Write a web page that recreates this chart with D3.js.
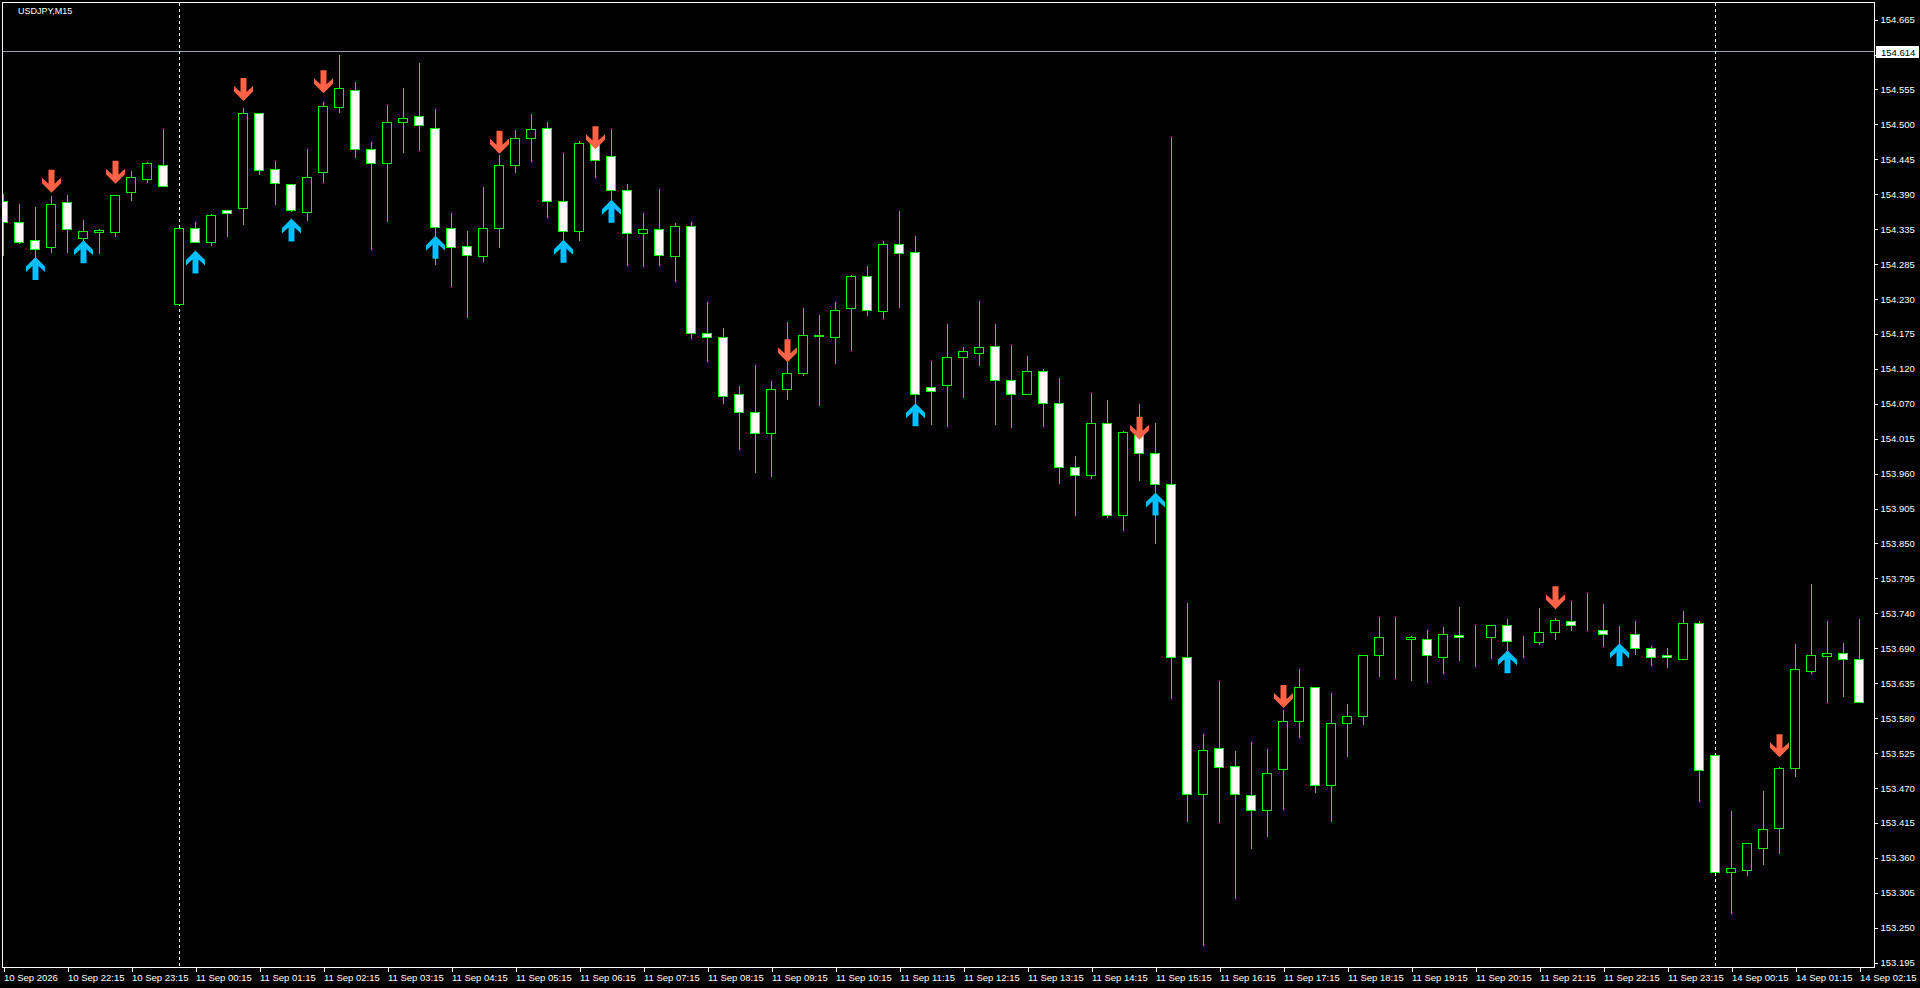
<!DOCTYPE html>
<html><head><meta charset="utf-8">
<script src="https://cdn.jsdelivr.net/npm/d3@7"></script>
<style>html,body{margin:0;padding:0;background:#000;overflow:hidden}</style>
</head><body>
<svg id="c" width="1920" height="988"></svg>
<script>
const symbol = "USDJPY,M15";
const opens = [154.383,154.349,154.321,154.310,154.381,154.324,154.334,154.334,154.396,154.416,
154.439,154.221,154.340,154.319,154.368,154.371,154.519,154.432,154.408,154.365,
154.427,154.529,154.556,154.463,154.441,154.505,154.514,154.496,154.340,154.312,
154.296,154.340,154.439,154.480,154.496,154.382,154.335,154.471,154.453,154.399,
154.333,154.338,154.296,154.344,154.176,154.170,154.081,154.053,154.020,154.089,
154.114,154.1725,154.170,154.215,154.265,154.210,154.315,154.302,154.093,154.095,
154.139,154.145,154.156,154.103,154.081,154.117,154.067,153.967,153.955,154.036,
153.892,154.018,153.990,153.941,153.672,153.458,153.529,153.501,153.457,153.433,
153.497,153.571,153.625,153.472,153.568,153.580,153.675,153.702,153.700,153.699,
153.672,153.706,153.703,153.702,153.721,153.695,153.695,153.711,153.728,153.720,
153.714,153.707,153.708,153.685,153.674,153.669,153.725,153.518,153.337,153.340,
153.373,153.405,153.499,153.649,153.673,153.677,153.668];
const highs = [154.395,154.379,154.374,154.392,154.393,154.354,154.340,154.393,154.431,154.445,
154.496,154.342,154.351,154.363,154.368,154.528,154.519,154.446,154.408,154.465,
154.538,154.611,154.569,154.476,154.533,154.560,154.599,154.527,154.365,154.337,
154.406,154.456,154.494,154.519,154.507,154.459,154.477,154.477,154.496,154.410,
154.365,154.403,154.350,154.351,154.226,154.186,154.095,154.128,154.103,154.195,
154.217,154.206,154.226,154.268,154.282,154.321,154.368,154.329,154.134,154.192,
154.156,154.228,154.192,154.159,154.142,154.122,154.108,153.986,154.085,154.074,
154.026,154.067,154.037,154.483,153.757,153.553,153.636,153.527,153.540,153.530,
153.590,153.654,153.625,153.617,153.600,153.676,153.735,153.735,153.706,153.715,
153.720,153.751,153.723,153.723,153.732,153.706,153.749,153.734,153.760,153.773,
153.756,153.721,153.729,153.690,153.687,153.745,153.729,153.518,153.433,153.383,
153.464,153.501,153.693,153.787,153.729,153.695,153.732];
const lows = [154.298,154.317,154.295,154.303,154.302,154.319,154.301,154.328,154.384,154.412,
154.405,154.221,154.318,154.314,154.328,154.346,154.425,154.378,154.366,154.352,
154.412,154.521,154.451,154.307,154.351,154.459,154.462,154.284,154.250,154.201,
154.288,154.311,154.428,154.445,154.358,154.321,154.321,154.420,154.384,154.282,
154.281,154.283,154.257,154.168,154.133,154.068,153.996,153.959,153.954,154.074,
154.111,154.064,154.129,154.150,154.205,154.200,154.217,154.067,154.035,154.032,
154.077,154.126,154.034,154.030,154.081,154.032,153.943,153.893,153.951,153.890,
153.869,153.948,153.849,153.607,153.416,153.223,153.414,153.295,153.373,153.393,
153.434,153.546,153.461,153.415,153.517,153.567,153.641,153.638,153.636,153.633,
153.647,153.666,153.658,153.670,153.682,153.672,153.691,153.700,153.713,153.713,
153.689,153.693,153.676,153.659,153.656,153.669,153.447,153.336,153.273,153.331,
153.348,153.366,153.486,153.647,153.602,153.610,153.602];
const closes = [154.349,154.319,154.308,154.377,154.338,154.335,154.337,154.391,154.419,154.441,
154.405,154.340,154.318,154.360,154.363,154.519,154.430,154.410,154.368,154.419,
154.530,154.558,154.463,154.442,154.505,154.511,154.500,154.341,154.310,154.298,
154.340,154.438,154.480,154.494,154.382,154.335,154.472,154.446,154.399,154.333,
154.338,154.298,154.344,154.176,154.170,154.079,154.053,154.020,154.089,154.114,
154.173,154.173,154.212,154.265,154.213,154.315,154.301,154.081,154.086,154.139,
154.149,154.154,154.103,154.082,154.117,154.068,153.967,153.955,154.036,153.892,
154.022,153.990,153.941,153.672,153.458,153.527,153.500,153.458,153.433,153.490,
153.571,153.625,153.472,153.568,153.580,153.674,153.702,153.7025,153.703,153.674,
153.707,153.702,153.703,153.721,153.697,153.695,153.711,153.729,153.722,153.720,
153.708,153.707,153.686,153.672,153.671,153.725,153.496,153.336,153.342,153.381,
153.404,153.498,153.652,153.674,153.677,153.669,153.602];

const upSignalIdx   = [2, 5, 12, 18, 27, 35, 38, 57, 72, 94, 101];
const upSignalPrice = [154.295,154.321,154.305,154.355,154.328,154.322,154.384,154.067,153.928,153.682,153.693];
const dnSignalIdx   = [3, 7, 15, 20, 31, 37, 49, 71, 80, 97, 111];
const dnSignalPrice = [154.395,154.409,154.538,154.550,154.456,154.463,154.131,154.010,153.592,153.746,153.515];

const timeLabels = ["10 Sep 2026","10 Sep 22:15","10 Sep 23:15",
"11 Sep 00:15","11 Sep 01:15","11 Sep 02:15","11 Sep 03:15","11 Sep 04:15","11 Sep 05:15",
"11 Sep 06:15","11 Sep 07:15","11 Sep 08:15","11 Sep 09:15","11 Sep 10:15","11 Sep 11:15",
"11 Sep 12:15","11 Sep 13:15","11 Sep 14:15","11 Sep 15:15","11 Sep 16:15","11 Sep 17:15",
"11 Sep 18:15","11 Sep 19:15","11 Sep 20:15","11 Sep 21:15","11 Sep 22:15","11 Sep 23:15",
"14 Sep 00:15","14 Sep 01:15","14 Sep 02:15"];
const priceLabels = ["154.665",null,"154.555","154.500","154.445","154.390","154.335","154.285",
"154.230","154.175","154.120","154.070","154.015","153.960","153.905","153.850","153.795",
"153.740","153.690","153.635","153.580","153.525","153.470","153.415","153.360","153.305",
"153.250","153.195"];
const priceTop = 154.665, priceBottom = 153.195;
const bidPrice = 154.614;
const daySeparators = [11, 107];

const N = opens.length;
const FONT = "'Liberation Sans', Arial, sans-serif";
const L = 2.5, R = 1874.5, T = 2.5, B = 967.5;

const svg = d3.select("#c");
svg.append("rect").attr("width",1920).attr("height",988).attr("fill","#000");

const x = d3.scaleLinear().domain([0, N-1]).range([3.5, 3.5 + 16*(N-1)]);
const y = d3.scaleLinear().domain([priceBottom, priceTop]).range([962.6, 19.6]);
const py = v => Math.round(y(v)) + 0.5;

svg.append("clipPath").attr("id","clip").append("rect")
  .attr("x", L+0.5).attr("y", T+0.5).attr("width", R-L-1).attr("height", B-T-1);
const plot = svg.append("g").attr("clip-path","url(#clip)");

// bid line
plot.append("line").attr("x1",L).attr("x2",R).attr("y1",py(bidPrice)-1).attr("y2",py(bidPrice)-1)
  .attr("stroke","#9aa4b0").attr("stroke-width",1).attr("shape-rendering","crispEdges");

// day separators
plot.selectAll("line.sep").data(daySeparators).join("line").attr("class","sep")
  .attr("x1",d=>x(d)).attr("x2",d=>x(d)).attr("y1",T).attr("y2",B)
  .attr("stroke","#fff").attr("stroke-dasharray","3,3").attr("shape-rendering","crispEdges");

const idx = d3.range(N);
// wicks
plot.selectAll("line.wick").data(idx).join("line").attr("class","wick")
  .attr("x1",i=>x(i)).attr("x2",i=>x(i)).attr("y1",i=>py(highs[i])).attr("y2",i=>py(lows[i]))
  .attr("stroke","#00ff00").attr("stroke-width",1).attr("shape-rendering","crispEdges");
// bodies
plot.selectAll("rect.body").data(idx).join("rect").attr("class","body")
  .attr("x",i=>x(i)-5).attr("width",9)
  .attr("y",i=>Math.min(py(opens[i]),py(closes[i])))
  .attr("height",i=>Math.abs(py(opens[i])-py(closes[i])))
  .attr("fill",i=> closes[i] >= opens[i] ? "#000" : "#fff")
  .attr("stroke","#00ff00").attr("stroke-width",1).attr("shape-rendering","crispEdges");

// arrows
const upPath = "M0,0 L9.5,9.5 L9.5,15 L3,9 L3,23 L-3,23 L-3,9 L-9.5,15 L-9.5,9.5 Z";
const dnPath = "M0,0 L9.5,-9.5 L9.5,-15 L3,-9 L3,-23 L-3,-23 L-3,-9 L-9.5,-15 L-9.5,-9.5 Z";
plot.selectAll("path.up").data(upSignalIdx).join("path").attr("class","up")
  .attr("d",upPath).attr("fill","#00bfff")
  .attr("transform",(d,k)=>`translate(${x(d)},${y(upSignalPrice[k])})`);
plot.selectAll("path.dn").data(dnSignalIdx).join("path").attr("class","dn")
  .attr("d",dnPath).attr("fill","#ff6347")
  .attr("transform",(d,k)=>`translate(${x(d)},${y(dnSignalPrice[k])})`);

// frame
svg.append("path").attr("d",`M${L},${B} L${L},${T} L${R},${T} L${R},${B} Z`)
  .attr("fill","none").attr("stroke","#fff").attr("shape-rendering","crispEdges");

// right axis
const tickVals = d3.range(priceLabels.length).map(k => priceTop - k*(priceTop-priceBottom)/(priceLabels.length-1));
const ay = svg.append("g").attr("transform",`translate(${R},0)`)
  .call(d3.axisRight(y).tickValues(tickVals).tickSize(3).tickPadding(3)
    .tickFormat((d,i)=>priceLabels[i] || ""));
ay.select(".domain").remove();
ay.selectAll("line").attr("stroke","#fff").attr("shape-rendering","crispEdges");
ay.selectAll("text").attr("fill","#fff").attr("font-family",FONT).attr("font-size","9.5px");

// bid marker
const bg = svg.append("g");
bg.append("rect").attr("x",R+1.5).attr("y",py(bidPrice)-6.5).attr("width",43).attr("height",12)
  .attr("fill","#fff");
bg.append("text").attr("x",R+6.5).attr("y",py(bidPrice)).attr("dy","0.34em")
  .attr("fill","#000").attr("font-family",FONT).attr("font-size","9.5px").text(bidPrice.toFixed(3));

// bottom axis
const tIdx = d3.range(0, N, 4);
const ax = svg.append("g").attr("transform",`translate(0,${B})`)
  .call(d3.axisBottom(x).tickValues(tIdx).tickSize(4).tickPadding(3)
    .tickFormat((d,i)=>timeLabels[i]));
ax.select(".domain").remove();
ax.selectAll("line").attr("stroke","#fff").attr("shape-rendering","crispEdges");
ax.selectAll("text").attr("fill","#fff").attr("font-family",FONT).attr("font-size","9.5px")
  .attr("text-anchor","start").attr("x",0).attr("y",6.5);

// symbol title
svg.append("text").attr("x",18).attr("y",14.3).attr("fill","#fff")
  .attr("font-family",FONT).attr("font-size","9px").text(symbol);
</script>
</body></html>
